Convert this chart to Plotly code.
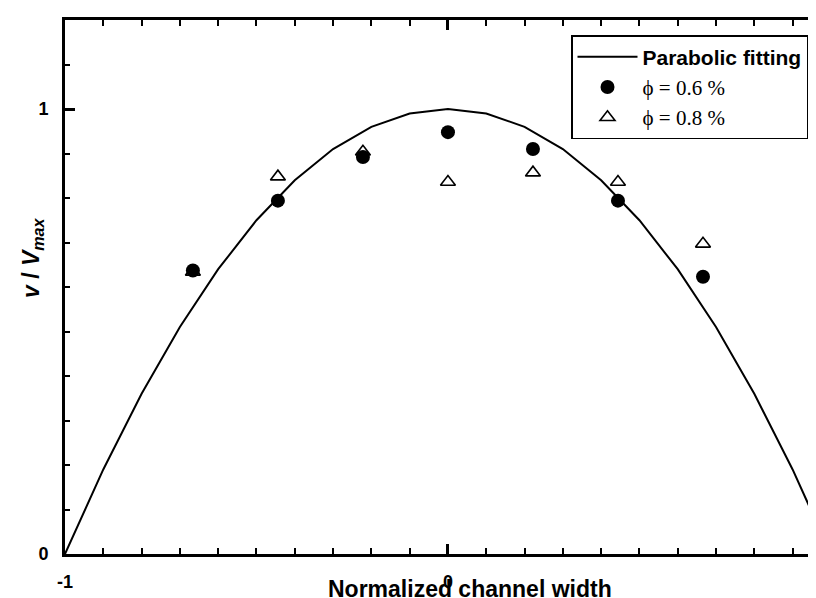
import plotly.graph_objects as go

# Parabolic fitting curve
fit_x = [-1.0, -0.9, -0.8, -0.7, -0.6, -0.5, -0.4, -0.3, -0.2, -0.1, 0.0,
         0.1, 0.2, 0.3, 0.4, 0.5, 0.6, 0.7, 0.8, 0.9, 1.0]
fit_y = [0.0, 0.19, 0.36, 0.51, 0.64, 0.75, 0.84, 0.91, 0.96, 0.99, 1.0,
         0.99, 0.96, 0.91, 0.84, 0.75, 0.64, 0.51, 0.36, 0.19, 0.0]

# Measured points
pos_x = [-0.666, -0.444, -0.222, 0.0, 0.222, 0.444, 0.666]
phi06_y = [0.637, 0.794, 0.892, 0.948, 0.910, 0.794, 0.623]
phi08_y = [0.634, 0.848, 0.904, 0.836, 0.857, 0.836, 0.697]

serif = "font-family:Liberation Serif;font-weight:normal"
names = ["Parabolic fitting",
         f"<span style='{serif}'>ϕ = 0.6 %</span>",
         f"<span style='{serif}'>ϕ = 0.8 %</span>"]

W, H = 816, 598
L, R, T, B = 57, 0, 12, 52
pw, ph = W - L - R, H - T - B

fig = go.Figure()
fig.add_trace(go.Scatter(x=fit_x, y=fit_y, mode="lines", name=names[0],
                         line=dict(color="black", width=2), legendgroup="a"))
fig.add_trace(go.Scatter(x=pos_x, y=phi06_y, mode="markers", name=names[1],
                         marker=dict(symbol="circle", size=14, color="black"),
                         legendgroup="b"))
fig.add_trace(go.Scatter(x=pos_x, y=phi08_y, mode="markers", name=names[2],
                         marker=dict(symbol="triangle-up-open", size=13, color="black",
                                     line=dict(width=1.6, color="black")),
                         legendgroup="c"))

def px_x(p):
    return (p - L) / pw

def px_y(p):
    return (H - B - p) / ph

fig.update_layout(
    width=W, height=H,
    margin=dict(l=L, r=R, t=T, b=B),
    plot_bgcolor="white", paper_bgcolor="white",
    font=dict(family="Liberation Sans", color="black"),
    showlegend=True,
    legend=dict(x=px_x(563), y=px_y(27), xanchor="left", yanchor="top",
                bordercolor="black", borderwidth=1.5, bgcolor="white",
                font=dict(family="Liberation Sans", size=21, weight="bold"),
                traceorder="grouped", tracegroupgap=0,
                itemwidth=60),
    xaxis=dict(range=[-1, 1 - 0.018], showgrid=False, zeroline=False,
               showline=True, linecolor="black", linewidth=2.5, mirror="ticks",
               ticks="inside", ticklen=10, tickwidth=2.5, tickcolor="black",
               tickvals=[-1, 0, 1], ticktext=["-1", "0", "1"],
               tickfont=dict(family="Liberation Sans", size=18, weight="bold"),
               ticklabelstandoff=10,
               minor=dict(dtick=0.1, ticks="inside", ticklen=6, tickwidth=2,
                          tickcolor="black", showgrid=False)),
    yaxis=dict(range=[0, 1.2], showgrid=False, zeroline=False,
               showline=True, linecolor="black", linewidth=3,
               ticks="inside", ticklen=10, tickwidth=2.5, tickcolor="black",
               tickvals=[0, 1], ticktext=["0", "1"],
               tickfont=dict(family="Liberation Sans", size=18, weight="bold"),
               ticklabelstandoff=10,
               minor=dict(dtick=0.1, ticks="inside", ticklen=5, tickwidth=2,
                          tickcolor="black", showgrid=False)),
    annotations=[
        dict(text="Normalized channel width", xref="paper", yref="paper",
             x=px_x(462), y=px_y(581), xanchor="center", yanchor="middle",
             showarrow=False,
             font=dict(family="Liberation Sans", size=23, weight="bold")),
        dict(text="<i>v</i> / <i>V</i><sub><i>max</i></sub>", xref="paper", yref="paper",
             x=px_x(24), y=px_y(250), xanchor="center", yanchor="middle",
             textangle=-90, showarrow=False,
             font=dict(family="Liberation Sans", size=23, weight="bold")),
    ],
)

fig.write_html("out.html")
